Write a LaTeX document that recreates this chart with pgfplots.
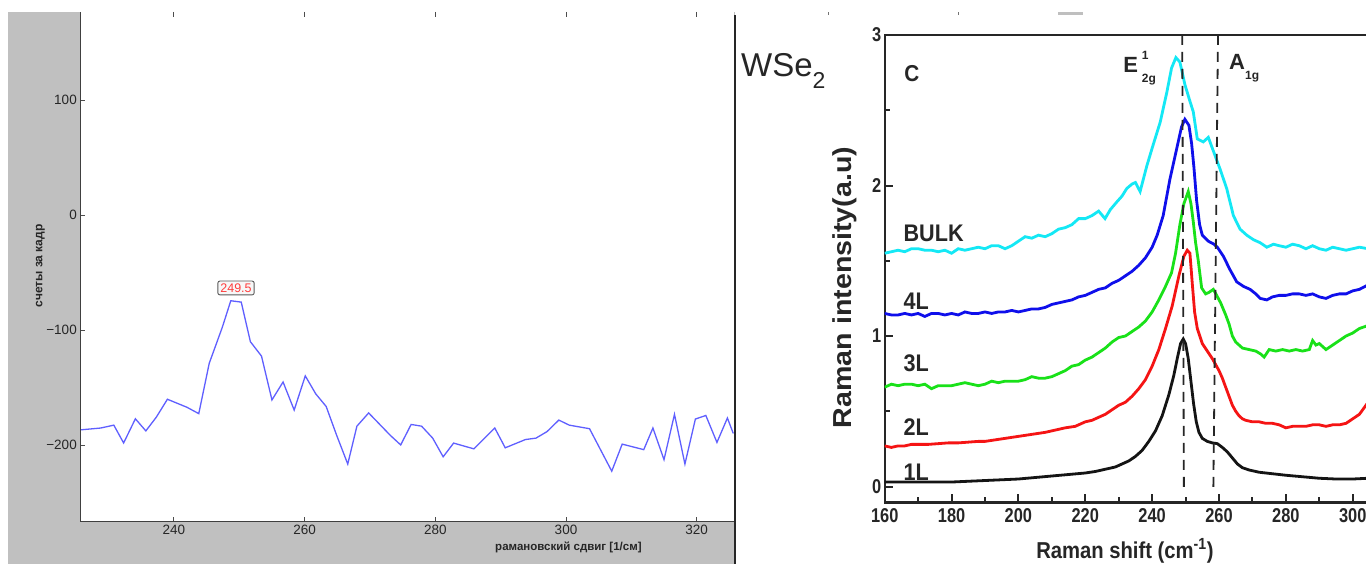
\documentclass[border=0pt]{standalone}
\usepackage{fontspec}
\setmainfont{Liberation Sans}
\usepackage{graphicx}
\usepackage{pgfplots}
\pgfplotsset{compat=1.18}
\definecolor{gbg}{RGB}{192,192,192}
\definecolor{lblue}{RGB}{95,95,255}
\definecolor{cbulk}{RGB}{20,232,245}
\definecolor{cfour}{RGB}{15,15,235}
\definecolor{cthree}{RGB}{25,225,25}
\definecolor{ctwo}{RGB}{245,20,20}
\definecolor{cone}{RGB}{20,20,20}
\newcommand{\sq}[1]{\scalebox{0.82}[1]{#1}}
\newcommand{\lsq}[1]{\scalebox{0.9}[1]{#1}}

\pgfplotstableread{
x y
225.7 -186.6
228.8 -185
230.8 -182.5
232.3 -198
234.1 -177
235.7 -187.5
237.3 -175.6
239.0 -160
242.0 -167
243.8 -172.5
245.4 -128.8
247.4 -97.5
248.7 -74.4
250.3 -75.6
251.7 -110
253.4 -122.5
255.0 -160.6
256.7 -145
258.4 -169.4
260.1 -139.7
261.7 -155.3
263.3 -166.3
264.9 -191.3
266.6 -216.3
268.0 -183.4
269.8 -171.9
273.1 -191.3
274.7 -199.7
276.3 -181.9
277.9 -183.4
279.6 -193.8
281.2 -210
282.8 -198.1
285.9 -203.1
289.1 -185
290.7 -202.2
293.8 -195
295.4 -193.8
297.1 -188.1
298.9 -178.1
300.5 -182.5
303.6 -185.6
307.0 -222.5
308.6 -199
311.9 -203.8
313.3 -185
315.0 -212.5
316.6 -173.1
318.2 -216.3
319.8 -177.2
321.4 -174.1
323.1 -197.5
324.7 -176.3
325.6 -189.7
}\leftdata

\pgfplotstableread{
x y
160 0.03
165 0.03
170 0.03
175 0.03
180 0.03
185 0.035
190 0.04
195 0.045
200 0.05
205 0.06
210 0.07
215 0.08
220 0.09
223 0.10
226 0.115
229 0.13
231 0.15
233 0.17
235 0.20
237 0.24
239 0.30
241 0.37
243 0.47
245 0.61
246.5 0.74
247.5 0.85
248.5 0.95
249.3 0.98
250 0.95
250.8 0.85
251.6 0.70
252.4 0.55
253.2 0.43
254 0.36
255 0.32
256.5 0.30
258 0.29
259.5 0.285
261 0.26
262.5 0.23
264 0.19
265.5 0.15
267 0.125
269 0.11
272 0.095
276 0.085
280 0.075
285 0.065
290 0.055
295 0.05
300 0.05
304.6 0.055
}\oneL

\pgfplotstableread{
x y
160 0.27
162 0.26
164 0.27
166 0.27
168 0.28
170 0.28
173 0.28
176 0.285
179 0.29
182 0.29
185 0.295
188 0.30
190 0.30
193 0.31
196 0.32
199 0.33
202 0.34
205 0.35
208 0.36
211 0.375
214 0.39
217 0.40
220 0.43
222 0.44
224 0.46
226 0.48
228 0.51
230 0.54
232 0.56
234 0.60
236 0.65
238 0.71
240 0.80
242 0.91
244 1.05
246 1.20
248 1.40
249.5 1.53
250.5 1.57
251.3 1.55
252 1.35
252.7 1.16
253.5 1.05
255 0.95
256.5 0.90
258 0.85
259 0.81
260 0.77
261 0.72
262 0.66
263 0.60
264 0.54
265 0.50
266 0.47
267 0.45
268 0.44
270 0.43
272 0.43
274 0.42
276 0.42
278 0.41
280 0.39
282 0.40
284 0.40
286 0.40
288 0.41
290 0.41
292 0.40
294 0.41
296 0.41
298 0.42
300 0.45
302 0.48
304.6 0.56
}\twoL

\pgfplotstableread{
x y
160 0.66
162 0.68
164 0.67
166 0.68
168 0.68
170 0.67
172 0.68
174 0.65
176 0.67
178 0.67
180 0.67
182 0.68
184 0.69
186 0.68
188 0.67
190 0.68
192 0.70
194 0.69
196 0.70
198 0.70
200 0.70
202 0.71
204 0.73
206 0.72
208 0.72
210 0.73
212 0.75
214 0.77
216 0.80
218 0.81
220 0.84
222 0.86
224 0.89
226 0.92
228 0.96
230 0.99
232 1.00
234 1.03
236 1.06
238 1.10
240 1.16
242 1.24
244 1.33
245.8 1.42
247 1.55
248.3 1.74
249.5 1.88
250.8 1.96
251.6 1.88
252.3 1.76
253 1.62
253.8 1.50
254.8 1.32
256 1.28
257 1.29
258.3 1.31
259.3 1.27
260.5 1.22
262 1.14
263 1.08
264 1.00
265 0.96
267 0.92
269 0.91
271 0.90
272.5 0.88
273.5 0.86
275 0.91
277 0.90
279 0.91
281 0.90
283 0.91
285 0.90
287 0.91
288 0.97
289 0.94
290 0.95
292 0.91
294 0.94
296 0.97
298 1.00
300 1.02
302 1.05
304.6 1.07
}\threeL

\pgfplotstableread{
x y
160 1.15
162 1.14
164 1.14
166 1.15
168 1.14
170 1.15
172 1.13
174 1.15
176 1.15
178 1.14
180 1.15
182 1.14
184 1.16
186 1.15
188 1.15
190 1.16
192 1.15
194 1.16
196 1.16
198 1.17
200 1.16
202 1.17
204 1.18
206 1.18
208 1.19
210 1.21
212 1.22
214 1.23
216 1.24
218 1.26
220 1.27
222 1.29
224 1.31
226 1.32
228 1.35
230 1.37
232 1.40
234 1.43
236 1.47
238 1.52
240 1.59
241.5 1.67
243.3 1.80
245.3 2.04
247.3 2.24
248.8 2.39
249.8 2.44
251 2.40
251.8 2.28
252.5 2.12
253.3 1.90
254.2 1.74
255 1.67
256.8 1.63
258.5 1.61
259.5 1.59
261.3 1.53
263.3 1.44
265.3 1.36
267.3 1.33
269.3 1.31
271 1.28
272.3 1.25
274.3 1.24
276 1.26
278 1.27
280 1.27
282 1.28
284 1.28
286 1.27
288 1.28
290 1.26
292 1.25
294 1.27
296 1.28
298 1.28
300 1.30
302 1.31
304.6 1.34
}\fourL

\pgfplotstableread{
x y
160 1.55
162 1.56
164 1.57
166 1.56
168 1.58
170 1.58
172 1.57
174 1.57
176 1.56
178 1.57
180 1.55
182 1.58
184 1.57
186 1.58
188 1.59
190 1.58
192 1.60
194 1.60
196 1.58
198 1.60
200 1.63
202 1.66
204 1.65
206 1.67
208 1.66
210 1.68
212 1.71
214 1.72
216 1.74
218 1.78
220 1.78
222 1.80
224 1.83
225.9 1.78
227.5 1.84
229.4 1.89
231 1.93
232.4 1.98
234 2.01
235 2.02
236.4 1.96
238.4 2.13
240.3 2.27
242.4 2.42
244.4 2.62
245.8 2.78
247.1 2.85
248.3 2.82
249.8 2.67
251.3 2.56
252.3 2.49
253.5 2.31
255.3 2.29
256.8 2.32
258.3 2.23
260.3 2.11
262.3 1.98
264.3 1.80
266.3 1.71
268.3 1.67
270.3 1.64
272.3 1.62
274.3 1.59
276.3 1.61
278 1.60
280 1.59
282 1.61
284 1.60
286 1.58
288 1.60
290 1.58
292 1.57
294 1.59
296 1.58
298 1.57
300 1.58
302 1.59
304.6 1.58
}\bulk

\begin{document}
\begin{tikzpicture}[x=1pt,y=1pt]
\path[use as bounding box] (0,0) rectangle (1366,564);
\fill[white] (0,0) rectangle (1366,564);
\fill[gbg] (8,0) rectangle (735,552);
\fill[white] (80.3,42.3) rectangle (734,552);
% small artifacts at the top edge
\draw[black!55, line width=1pt] (828,549) -- (828,552);
\draw[black!55, line width=1pt] (958,549) -- (958,552);
\fill[black!25] (1058,549) rectangle (1083,552);

\begin{axis}[
  at={(80.3pt,42.3pt)}, anchor=south west, scale only axis,
  width=653.7pt, height=509.7pt,
  xmin=225.67, xmax=325.71, ymin=-266.4, ymax=176.5,
  axis line style={draw=none},
  tick align=inside,
  xtick={240,260,280,300,320}, xticklabels={240,260,280,300,320},
  ytick={-200,-100,0,100}, yticklabels={−200,−100,0,100},
  xtick pos=both, ytick pos=left,
  major tick length=5pt,
  tick style={color=black!70, line width=0.9pt},
  ticklabel style={font=\fontsize{13.5}{13.5}\selectfont, text=black!85},
  xlabel={рамановский сдвиг [1/см]},
  xlabel style={at={(axis description cs:0.859,0)}, anchor=east, yshift=-25.3pt,
    font=\fontsize{11.5}{12}\selectfont\bfseries, text=black!85, inner sep=0pt},
  ylabel={счеты за кадр},
  ylabel style={at={(axis description cs:-0.0612,0.502)}, anchor=center,
    font=\fontsize{12}{12}\selectfont\bfseries, text=black!85, inner sep=0pt},
]
\addplot[no markers, color=lblue, line width=1.3pt] table {\leftdata};
\node[draw=black!65, fill=black!3, rounded corners=2pt, line width=0.9pt,
  inner sep=2.5pt, text={rgb,255:red,255;green,60;blue,60},
  font=\fontsize{12.5}{12.5}\selectfont] at (axis cs:249.5,-63.3) {249.5};
\end{axis}
\draw[black!75, line width=1.2pt] (80.3,42.3) -- (734,42.3);
\draw[black!75, line width=1.2pt] (80.3,42.3) -- (80.3,552);
\draw[black!85, line width=1.8pt] (734.6,0) -- (734.6,549);

\node[anchor=base west, inner sep=0pt, font=\fontsize{33}{33}\selectfont, text=black!85]
  at (741,487) {WSe\raisebox{-0.36em}{\fontsize{23}{23}\selectfont 2}};

\begin{axis}[
  at={(884.7pt,61.5pt)}, anchor=south west, scale only axis,
  width=483.3pt, height=467.5pt,
  xmin=160, xmax=304.57, ymin=-0.106, ymax=3.0,
  axis line style={line width=2.4pt, black!85},
  tick align=inside, xtick pos=left, ytick pos=left,
  xtick={160,180,200,220,240,260,280,300},
  xticklabels={\sq{160},\sq{180},\sq{200},\sq{220},\sq{240},\sq{260},\sq{280},\sq{300}},
  minor xtick={170,190,210,230,250,270,290},
  ytick={0,1,2,3}, yticklabels={\sq{0},\sq{1},\sq{2},\sq{3}},
  minor ytick={0.5,1.5,2.5},
  major tick length=8pt, minor tick length=5pt,
  tick style={line width=2pt, black!85},
  ticklabel style={font=\fontsize{20}{20}\selectfont\bfseries, text=black!85},
  xticklabel style={yshift=-3pt},
  xlabel={\scalebox{0.88}[1]{Raman shift\ (cm\textsuperscript{-1})}},
  xlabel style={at={(axis description cs:0.497,0)}, anchor=north, yshift=-36pt,
    inner sep=0pt, font=\fontsize{23}{23}\selectfont\bfseries, text=black!85},
  ylabel={\scalebox{1.1}[1]{Raman intensity(a.u)}},
  ylabel style={at={(axis description cs:-0.0832,0.46)}, anchor=center,
    inner sep=0pt, font=\fontsize{26}{26}\selectfont\bfseries, text=black!85},
]
\addplot[no markers, color=cbulk, line width=2.8pt] table {\bulk};
\addplot[no markers, color=cfour, line width=2.8pt] table {\fourL};
\addplot[no markers, color=cthree, line width=2.8pt] table {\threeL};
\addplot[no markers, color=ctwo, line width=2.8pt] table {\twoL};
\addplot[no markers, color=cone, line width=2.8pt] table {\oneL};
\draw[black!85, line width=1.8pt, dash pattern=on 10pt off 7pt] (axis cs:249.0,3.0) -- (axis cs:249.5,-0.03);
\draw[black!85, line width=1.8pt, dash pattern=on 10pt off 7pt] (axis cs:259.7,3.0) -- (axis cs:258.3,-0.03);
\node[anchor=base west, inner sep=0pt, font=\fontsize{23}{23}\selectfont\bfseries, text=black!85] at (axis cs:165.8,2.694) {\lsq{C}};
\node[anchor=base west, inner sep=0pt, font=\fontsize{24}{24}\selectfont\bfseries, text=black!85] at (axis cs:165.6,1.631) {\lsq{BULK}};
\node[anchor=base west, inner sep=0pt, font=\fontsize{24}{24}\selectfont\bfseries, text=black!85] at (axis cs:165.6,1.179) {\lsq{4L}};
\node[anchor=base west, inner sep=0pt, font=\fontsize{24}{24}\selectfont\bfseries, text=black!85] at (axis cs:165.6,0.761) {\lsq{3L}};
\node[anchor=base west, inner sep=0pt, font=\fontsize{24}{24}\selectfont\bfseries, text=black!85] at (axis cs:165.6,0.342) {\lsq{2L}};
\node[anchor=base west, inner sep=0pt, font=\fontsize{24}{24}\selectfont\bfseries, text=black!85] at (axis cs:165.6,0.043) {\lsq{1L}};
\node[anchor=base west, inner sep=0pt, font=\fontsize{22}{22}\selectfont\bfseries, text=black!85] at (axis cs:231.3,2.748)
  {E\hspace{4pt}\makebox[0pt][l]{\raisebox{0.62em}{\fontsize{12}{12}\selectfont 1}}\raisebox{-0.42em}{\fontsize{12}{12}\selectfont 2g}};
\node[anchor=base west, inner sep=0pt, font=\fontsize{22}{22}\selectfont\bfseries, text=black!85] at (axis cs:263.0,2.768)
  {A\raisebox{-0.42em}{\fontsize{12}{12}\selectfont 1g}};
\end{axis}
\end{tikzpicture}
\end{document}
